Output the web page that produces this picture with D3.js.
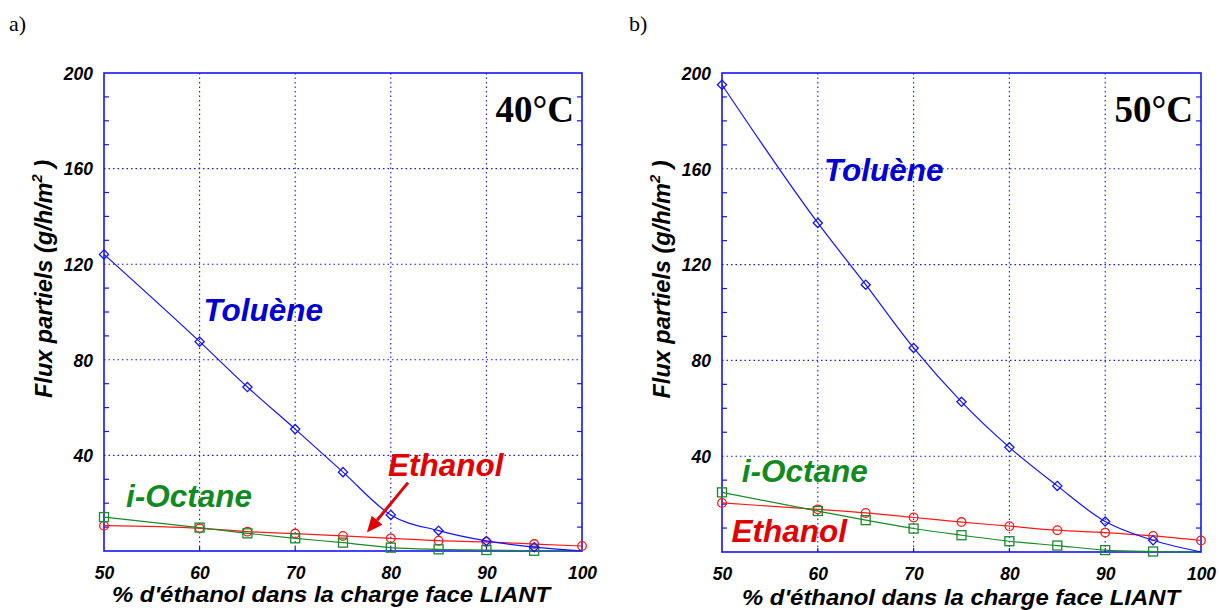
<!DOCTYPE html>
<html>
<head>
<meta charset="utf-8">
<script src="https://cdn.jsdelivr.net/npm/d3@7"></script>
<style>
  html, body { margin: 0; padding: 0; background: #fff; }
  svg { display: block; }
  .lab { font-family: Arial, "Liberation Sans", sans-serif; font-weight: bold; font-style: italic; }
  .serif { font-family: "Times New Roman", "Liberation Serif", serif; }
</style>
</head>
<body>
<svg id="chart" width="1219" height="610"></svg>
<script>
// ---------- data ----------
const xPercent = [50, 60, 65, 70, 75, 80, 85, 90, 95, 100];
const xTicks = [50, 60, 70, 80, 90, 100];
const yTicks = [40, 80, 120, 160, 200];
const yMinorTicks = [10, 20, 30, 50, 60, 70, 90, 100, 110, 130, 140, 150, 170, 180, 190];

// 40 °C (panel a)
const toluene40 = [124.1, 87.6, 68.6, 51.0, 33.0, 15.1, 8.5, 4.2, 1.6, 0.0];
const ethanol40 = [10.6, 9.5, 8.1, 7.3, 6.3, 5.3, 4.3, 3.8, 2.9, 2.1];
const octane40  = [14.2, 9.8, 7.4, 5.3, 3.5, 1.4, 0.7, 0.4, 0.1, 0.0];

// 50 °C (panel b)
const toluene50 = [195.1, 137.4, 111.6, 85.2, 62.7, 43.7, 27.6, 12.7, 4.9, 0.0];
const ethanol50 = [20.5, 17.8, 16.3, 14.4, 12.5, 10.8, 9.1, 8.1, 6.7, 4.8];
const octane50  = [24.9, 17.1, 13.3, 9.8, 7.0, 4.5, 2.7, 0.8, 0.2, 0.0];

// number of measured points (markers) per series; the fitted line runs to 100 %
const markerCount = { toluene: 9, ethanol: 10, octane: 9 };

const seriesNames = ["Toluène", "Ethanol", "i-Octane"];
const panelTitles = ["40°C", "50°C"];
const panelLetters = ["a)", "b)"];
const xAxisTitle = "% d'éthanol dans la charge face LIANT";

// ---------- drawing ----------
const svg = d3.select("#chart");
const BLUE = "#1414ff", RED = "#ff1a1a", GREEN = "#1a8a2a";
const TXT_BLUE = "#0000d0", TXT_RED = "#e00000", TXT_GREEN = "#118a22";
const SANS = "Arial, 'Liberation Sans', sans-serif";

function drawPanel(p) {
  const x = d3.scaleLinear().domain([50, 100]).range([p.x0, p.x1]);
  const y = d3.scaleLinear().domain([0, 200]).range([p.y1, p.y0]);
  const g = svg.append("g");

  // grid (dotted)
  g.append("g").selectAll("line").data(xTicks.slice(1, -1)).join("line")
    .attr("x1", d => x(d)).attr("x2", d => x(d)).attr("y1", p.y0).attr("y2", p.y1)
    .attr("stroke", BLUE).attr("stroke-width", 1.1).attr("stroke-dasharray", "1.5,3");
  g.append("g").selectAll("line").data(yTicks.slice(0, -1)).join("line")
    .attr("y1", d => y(d)).attr("y2", d => y(d)).attr("x1", p.x0).attr("x2", p.x1)
    .attr("stroke", BLUE).attr("stroke-width", 1.1).attr("stroke-dasharray", "1.5,3");

  // inward ticks
  const tk = g.append("g").attr("stroke", BLUE).attr("stroke-width", 1.2);
  tk.selectAll("line.l").data(yMinorTicks).join("line").attr("class", "l")
    .attr("x1", p.x0).attr("x2", p.x0 + 5).attr("y1", d => y(d)).attr("y2", d => y(d));
  tk.selectAll("line.r").data(yMinorTicks).join("line").attr("class", "r")
    .attr("x1", p.x1).attr("x2", p.x1 - 5).attr("y1", d => y(d)).attr("y2", d => y(d));
  tk.selectAll("line.b").data(xTicks.slice(1, -1)).join("line").attr("class", "b")
    .attr("x1", d => x(d)).attr("x2", d => x(d)).attr("y1", p.y1).attr("y2", p.y1 - 4);

  // axes tick labels via d3 axes (lines hidden)
  const ax = g.append("g").attr("transform", `translate(${p.x0},0)`)
    .call(d3.axisLeft(y).tickValues(yTicks).tickSize(0).tickPadding(11));
  ax.select(".domain").remove();
  ax.selectAll("text").attr("font-size", 17.5).attr("fill", "#000")
    .attr("dy", "0.36em").style("font-family", SANS)
    .style("font-weight", "bold").style("font-style", "italic");

  const bx = g.append("g").attr("transform", `translate(0,${p.y1})`)
    .call(d3.axisBottom(x).tickValues(xTicks).tickSize(0).tickPadding(16));
  bx.select(".domain").remove();
  bx.selectAll("text").attr("font-size", 17.5).attr("fill", "#000")
    .style("font-family", SANS)
    .style("font-weight", "bold").style("font-style", "italic");

  // frame
  g.append("rect").attr("x", p.x0).attr("y", p.y0)
    .attr("width", p.x1 - p.x0).attr("height", p.y1 - p.y0)
    .attr("fill", "none").attr("stroke", BLUE).attr("stroke-width", 1.6);

  // curves
  const line = d3.line().x(d => x(d[0])).y(d => y(d[1])).curve(d3.curveMonotoneX);
  const series = [
    { key: "ethanol", vals: p.ethanol, color: RED, shape: "circle" },
    { key: "octane", vals: p.octane, color: GREEN, shape: "square" },
    { key: "toluene", vals: p.toluene, color: BLUE, shape: "diamond" }
  ];
  series.forEach(s => {
    const pts = xPercent.map((xv, i) => [xv, s.vals[i]]);
    g.append("path").datum(pts).attr("d", line)
      .attr("fill", "none").attr("stroke", s.color).attr("stroke-width", 1.2);
    const mk = pts.slice(0, markerCount[s.key]);
    const mg = g.append("g").attr("fill", "none").attr("stroke", s.color).attr("stroke-width", 1.3);
    if (s.shape === "circle") {
      mg.selectAll("circle").data(mk).join("circle")
        .attr("cx", d => x(d[0])).attr("cy", d => y(d[1])).attr("r", 4.3);
    } else if (s.shape === "square") {
      mg.selectAll("rect").data(mk).join("rect")
        .attr("x", d => x(d[0]) - 4.5).attr("y", d => y(d[1]) - 4.5)
        .attr("width", 9).attr("height", 9);
    } else {
      mg.selectAll("path").data(mk).join("path")
        .attr("d", d => {
          const cx = x(d[0]), cy = y(d[1]), r = 4.6;
          return `M${cx},${cy - r}L${cx + r},${cy}L${cx},${cy + r}L${cx - r},${cy}Z`;
        });
    }
  });

  // series labels (positions in data coordinates)
  p.labels.forEach(l => {
    g.append("text").attr("class", "lab").attr("x", x(l.x)).attr("y", y(l.y))
      .attr("font-size", 31.5).attr("fill", l.color).text(l.text);
  });

  // optional arrow
  if (p.arrow) {
    const a = p.arrow;
    const sx = x(a.from[0]), sy = y(a.from[1]), ex = x(a.to[0]), ey = y(a.to[1]);
    const ang = Math.atan2(ey - sy, ex - sx);
    const hl = 16, hw = 7;
    const bxp = ex - hl * Math.cos(ang), byp = ey - hl * Math.sin(ang);
    g.append("line").attr("x1", sx).attr("y1", sy).attr("x2", bxp).attr("y2", byp)
      .attr("stroke", TXT_RED).attr("stroke-width", 3);
    g.append("path").attr("d",
      `M${ex},${ey}L${bxp + hw * Math.sin(ang)},${byp - hw * Math.cos(ang)}L${bxp - hw * Math.sin(ang)},${byp + hw * Math.cos(ang)}Z`)
      .attr("fill", TXT_RED);
  }

  // temperature title
  g.append("text").attr("class", "serif").attr("x", p.x1 - 8).attr("y", p.y0 + 49)
    .attr("text-anchor", "end").attr("font-size", 37).attr("font-weight", "bold")
    .attr("fill", "#000").text(p.title);

  // panel letter
  g.append("text").attr("class", "serif").attr("x", p.letterX).attr("y", 31)
    .attr("font-size", 22).attr("fill", "#000").text(p.letter);

  // y axis title
  const yt = g.append("text").attr("class", "lab")
    .attr("transform", `translate(${p.x0 - 52},${(p.y0 + p.y1) / 2 - 33}) rotate(-90)`)
    .attr("text-anchor", "middle").attr("font-size", 24).attr("fill", "#000")
    .attr("textLength", 238).attr("lengthAdjust", "spacingAndGlyphs");
  yt.append("tspan").text("Flux partiels (g/h/m");
  yt.append("tspan").attr("font-size", 15).attr("dy", -10).text("2");
  yt.append("tspan").attr("dy", 10).text(" )");

  // x axis title
  g.append("text").attr("class", "lab").attr("x", p.xTitleX).attr("y", p.xTitleY)
    .attr("text-anchor", "middle").attr("font-size", 21.5).attr("fill", "#000")
    .attr("textLength", 438).attr("lengthAdjust", "spacingAndGlyphs")
    .text(xAxisTitle);
}

drawPanel({
  x0: 104, x1: 582, y0: 73, y1: 551,
  toluene: toluene40, ethanol: ethanol40, octane: octane40,
  title: panelTitles[0], letter: panelLetters[0], letterX: 9,
  xTitleX: 331, xTitleY: 602,
  labels: [
    { text: seriesNames[0], x: 60.4, y: 96.4, color: TXT_BLUE },
    { text: seriesNames[1], x: 79.7, y: 31.4, color: TXT_RED },
    { text: seriesNames[2], x: 52.3, y: 18.6, color: TXT_GREEN }
  ],
  arrow: { from: [81.8, 28.6], to: [77.5, 7.7] }
});

drawPanel({
  x0: 722, x1: 1201, y0: 73, y1: 552,
  toluene: toluene50, ethanol: ethanol50, octane: octane50,
  title: panelTitles[1], letter: panelLetters[1], letterX: 629,
  xTitleX: 961, xTitleY: 605,
  labels: [
    { text: seriesNames[0], x: 60.65, y: 154.7, color: TXT_BLUE },
    { text: seriesNames[2], x: 52.06, y: 29.3, color: TXT_GREEN },
    { text: seriesNames[1], x: 51.0, y: 4.2, color: TXT_RED }
  ],
  arrow: null
});
</script>
</body>
</html>
